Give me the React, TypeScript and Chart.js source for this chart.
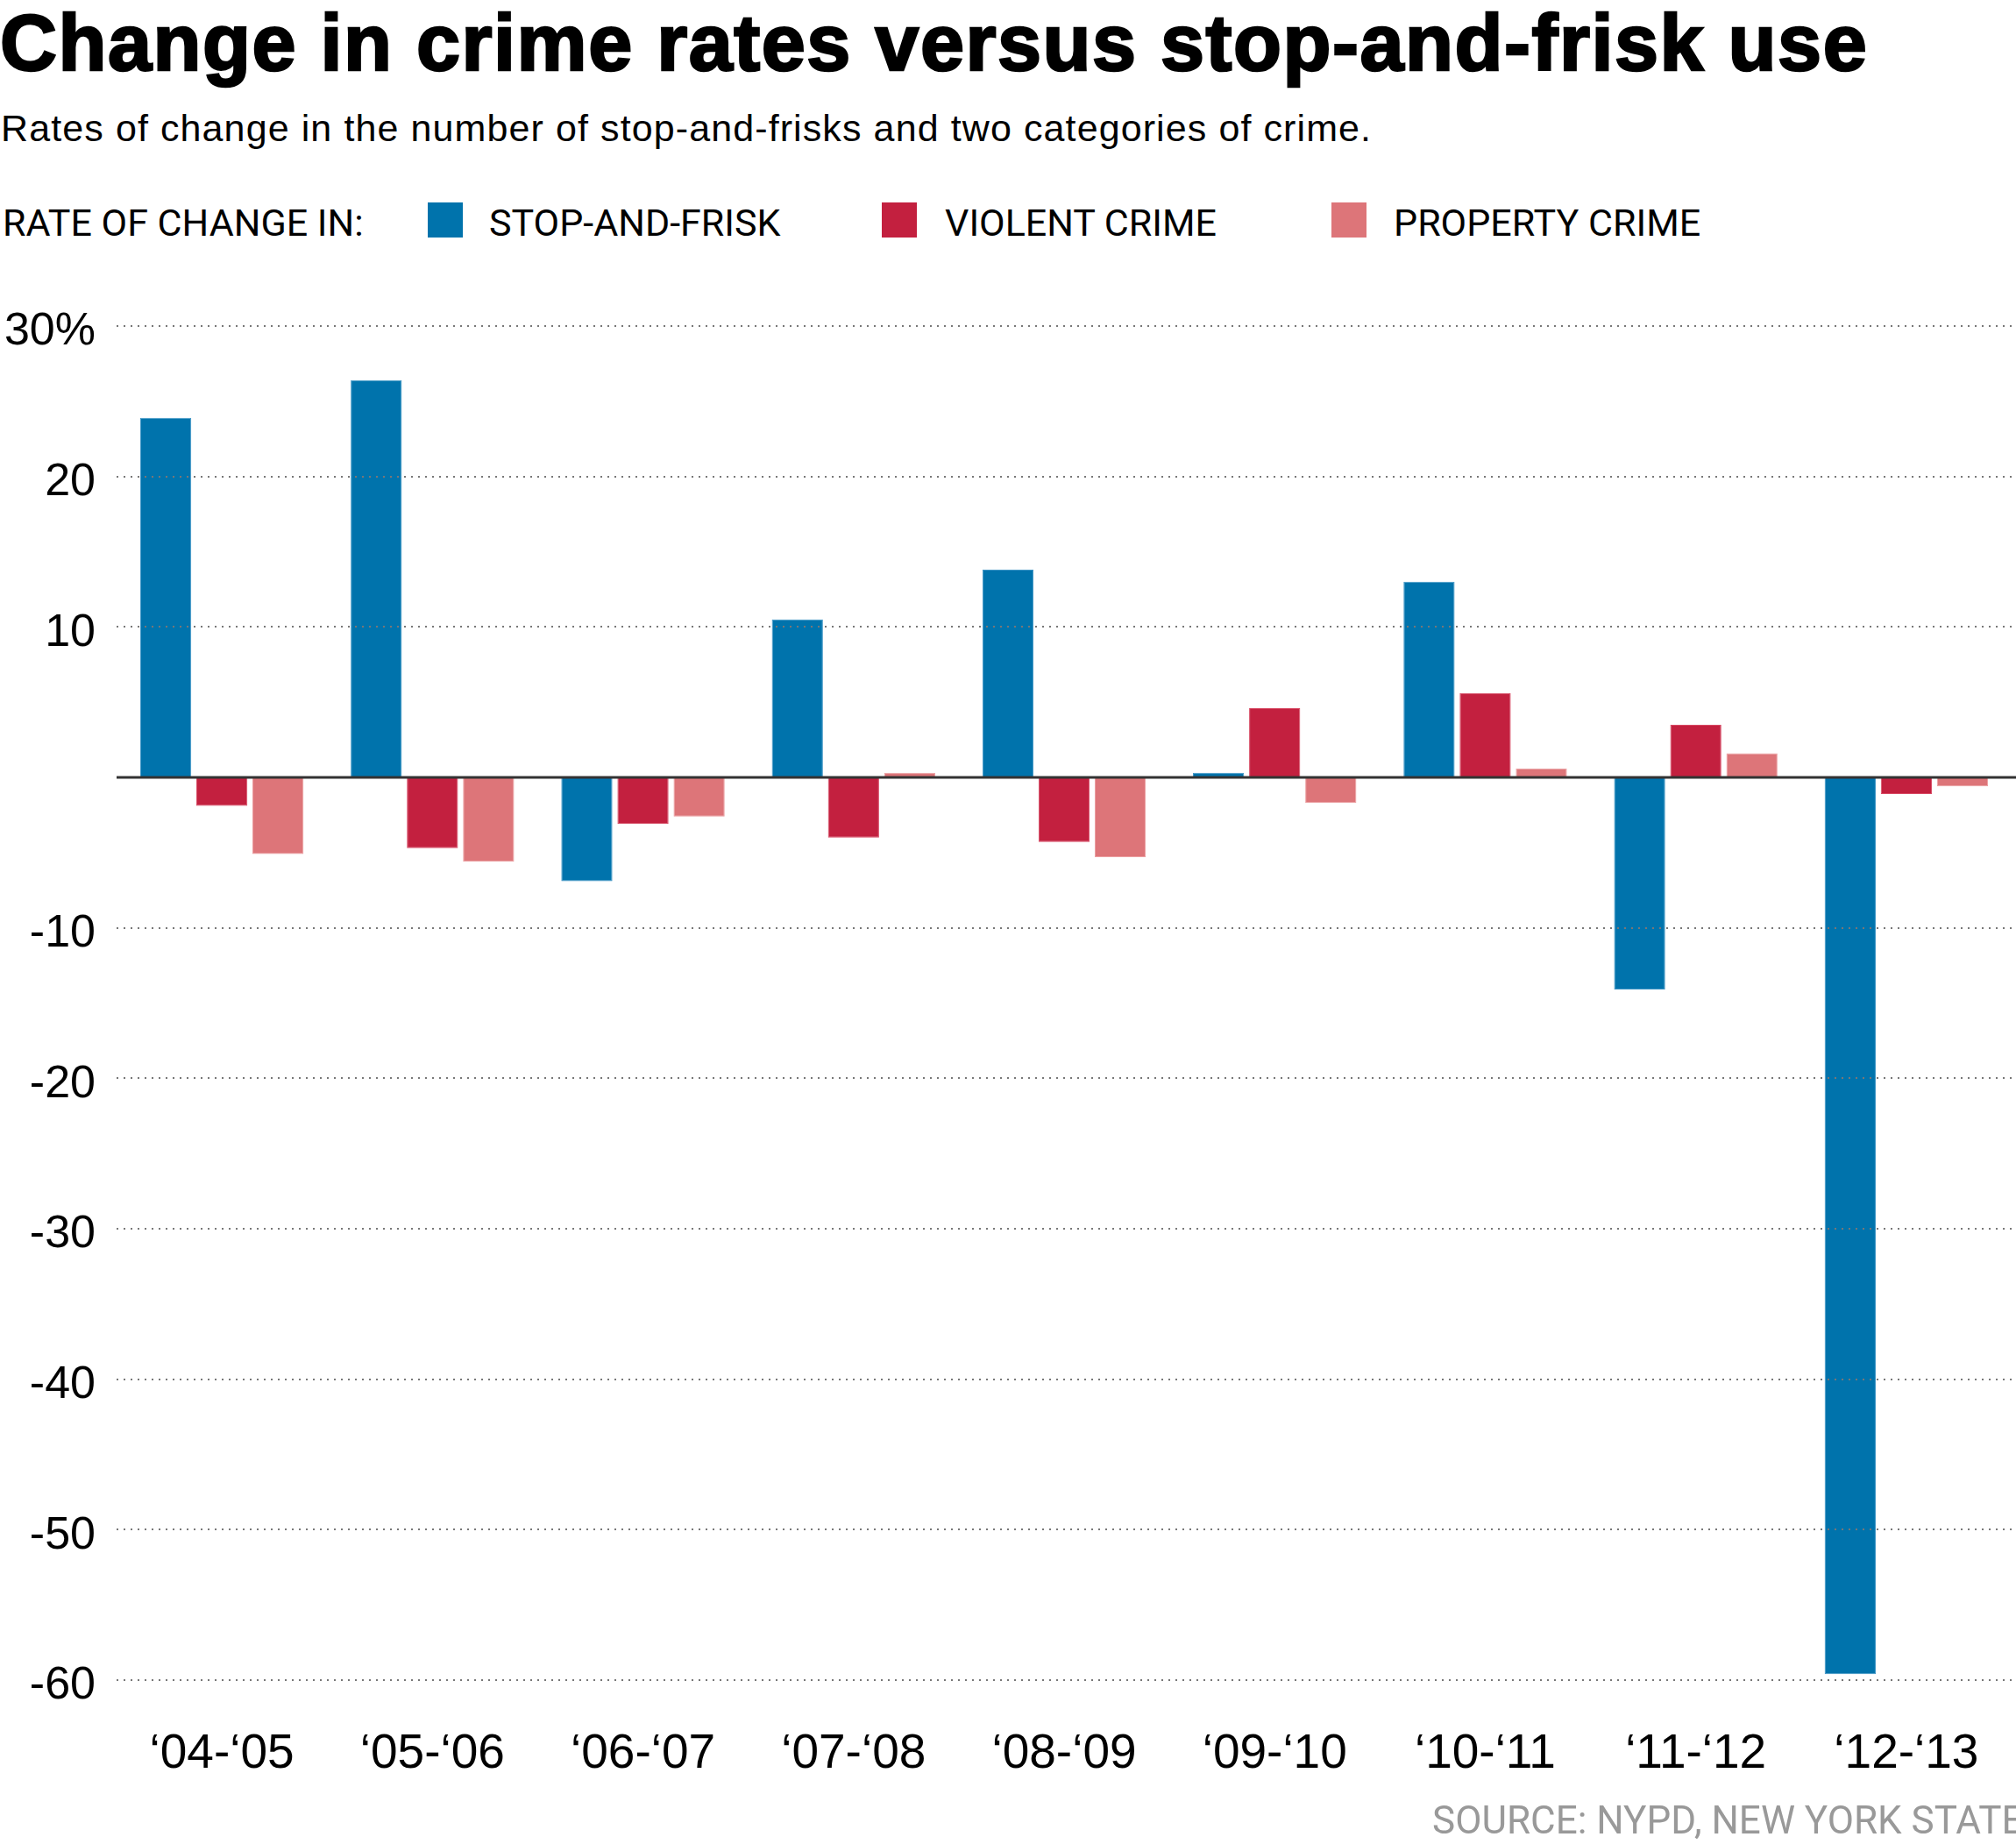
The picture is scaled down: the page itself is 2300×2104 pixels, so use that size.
import React, { useEffect, useRef } from 'react';
import { Chart, registerables } from 'chart.js';

Chart.register(...registerables);

const categories = ['‘04-‘05', '‘05-‘06', '‘06-‘07', '‘07-‘08', '‘08-‘09', '‘09-‘10', '‘10-‘11', '‘11-‘12', '‘12-‘13'];
const stopAndFrisk = [23.9, 26.4, -6.9, 10.5, 13.8, 0.3, 13.0, -14.1, -59.6];
const violentCrime = [-1.9, -4.7, -3.1, -4.0, -4.3, 4.6, 5.6, 3.5, -1.1];
const propertyCrime = [-5.1, -5.6, -2.6, 0.3, -5.3, -1.7, 0.6, 1.6, -0.6];

const seriesNames = ['STOP-AND-FRISK', 'VIOLENT CRIME', 'PROPERTY CRIME'];
const seriesColors = ['#0073AC', '#C3203F', '#DD7579'];
const seriesBorders = ['#3E95C6', '#D84A64', '#EC9EA0'];

const yTickValues = [30, 20, 10, 0, -10, -20, -30, -40, -50, -60];
const yTickLabels = ['30%', '20', '10', '', '-10', '-20', '-30', '-40', '-50', '-60'];

const GRID_DASH = [2, 6];

const zeroLine = {
  id: 'zeroLine',
  afterDraw(chart: any) {
    const { ctx, chartArea } = chart;
    const yScale = chart.scales.y;
    ctx.save();
    ctx.strokeStyle = '#777777';
    ctx.lineWidth = 2;
    ctx.setLineDash(GRID_DASH);
    const period = GRID_DASH[0] + GRID_DASH[1];
    const startOffset = (chartArea.right - chartArea.left) % period;
    yScale.ticks.forEach((t: any) => {
      const yy = yScale.getPixelForValue(t.value);
      ctx.lineDashOffset = startOffset;
      ctx.beginPath();
      ctx.moveTo(chartArea.right, yy);
      ctx.lineTo(chart.width, yy);
      ctx.stroke();
    });
    ctx.restore();

    const y = yScale.getPixelForValue(0);
    ctx.save();
    ctx.strokeStyle = '#333333';
    ctx.lineWidth = 3;
    ctx.beginPath();
    ctx.moveTo(chartArea.left, y);
    ctx.lineTo(chart.width, y);
    ctx.stroke();
    ctx.restore();
  },
};

export default function App() {
  const canvasRef = useRef<HTMLCanvasElement | null>(null);

  useEffect(() => {
    document.body.style.margin = '0';
    const canvas = canvasRef.current;
    if (!canvas) return;
    const values = [stopAndFrisk, violentCrime, propertyCrime];
    const chart = new Chart(canvas, {
      type: 'bar',
      data: {
        labels: categories,
        datasets: values.map((v, i) => ({
          label: seriesNames[i],
          data: v,
          backgroundColor: seriesColors[i],
          borderColor: seriesBorders[i],
          borderWidth: 1,
          barPercentage: 0.91,
          categoryPercentage: 0.8,
        })),
      },
      options: {
        animation: false,
        responsive: false,
        devicePixelRatio: 1,
        layout: { padding: { top: 72, left: 0, right: 5, bottom: 0 } },
        plugins: {
          legend: { display: false },
          tooltip: { enabled: false },
          title: { display: false },
        },
        scales: {
          x: {
            grid: {
              display: true,
              drawOnChartArea: false,
              drawTicks: true,
              tickLength: 45,
              tickColor: 'rgba(0,0,0,0)',
            },
            border: { display: false },
            ticks: {
              color: '#000',
              font: { family: 'Liberation Sans', size: 55 },
              padding: 7,
              maxRotation: 0,
              autoSkip: false,
            },
            afterFit: (s: any) => {
              s.height = 187;
            },
          },
          y: {
            min: -60,
            max: 30,
            grid: { color: '#777777', lineWidth: 2, drawTicks: false, z: 1 },
            border: { display: false, dash: GRID_DASH },
            ticks: {
              stepSize: 10,
              color: '#000',
              font: { family: 'Liberation Sans', size: 52 },
              padding: 24,
              labelOffset: 7,
              callback: (v: any) => {
                const idx = yTickValues.indexOf(Number(v));
                return idx >= 0 ? yTickLabels[idx] : '';
              },
            },
            afterFit: (s: any) => {
              s.width = 133;
            },
          },
        },
      },
      plugins: [zeroLine],
    });
    return () => chart.destroy();
  }, []);

  const legendItems = [
    { swatch: 488, text: 558 },
    { swatch: 1006, text: 1078 },
    { swatch: 1519, text: 1590 },
  ];

  return (
    <div
      style={{
        position: 'absolute',
        left: 0,
        top: 0,
        width: 2300,
        height: 2104,
        overflow: 'hidden',
        background: '#fff',
      }}
    >
      <div
        style={{
          position: 'absolute',
          left: 0,
          top: 4,
          fontFamily: 'Liberation Sans',
          fontWeight: 700,
          fontSize: 90,
          lineHeight: '90px',
          letterSpacing: '1.5px',
          WebkitTextStroke: '2.5px #000',
          color: '#000',
          whiteSpace: 'nowrap',
        }}
      >
        Change in crime rates versus stop-and-frisk use
      </div>
      <div
        style={{
          position: 'absolute',
          left: 1,
          top: 125,
          fontFamily: 'Liberation Sans',
          fontSize: 43,
          lineHeight: '43px',
          letterSpacing: '1.1px',
          color: '#000',
          whiteSpace: 'nowrap',
        }}
      >
        Rates of change in the number of stop-and-frisks and two categories of crime.
      </div>
      <div
        style={{
          position: 'absolute',
          left: 3,
          top: 233,
          fontFamily: 'Roboto',
          fontSize: 43,
          lineHeight: '43px',
          color: '#000',
          whiteSpace: 'nowrap',
        }}
      >
        RATE OF CHANGE IN:
      </div>
      {legendItems.map((it, i) => (
        <React.Fragment key={seriesNames[i]}>
          <div
            style={{
              position: 'absolute',
              left: it.swatch,
              top: 231,
              width: 40,
              height: 40,
              background: seriesColors[i],
            }}
          />
          <div
            style={{
              position: 'absolute',
              left: it.text,
              top: 233,
              fontFamily: 'Roboto',
              fontSize: 43,
              lineHeight: '43px',
              color: '#000',
              whiteSpace: 'nowrap',
            }}
          >
            {seriesNames[i]}
          </div>
        </React.Fragment>
      ))}
      <canvas
        ref={canvasRef}
        width={2300}
        height={1804}
        style={{ position: 'absolute', left: 0, top: 300, width: 2300, height: 1804 }}
      />
      <div
        style={{
          position: 'absolute',
          left: 1634,
          top: 2055,
          fontFamily: 'Roboto',
          fontSize: 44,
          lineHeight: '44px',
          color: '#999999',
          whiteSpace: 'nowrap',
        }}
      >
        SOURCE: NYPD, NEW YORK STATE
      </div>
    </div>
  );
}
